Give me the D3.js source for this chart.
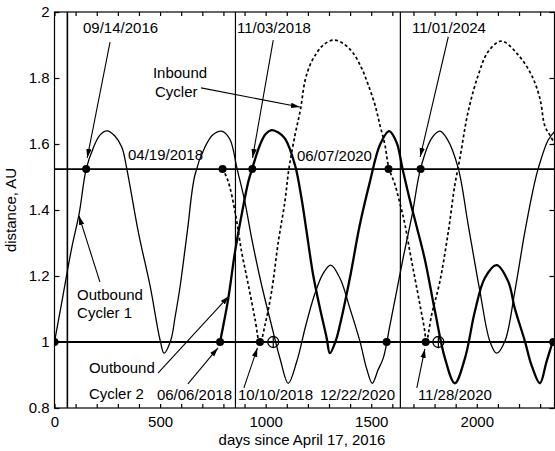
<!DOCTYPE html>
<html><head><meta charset="utf-8">
<script src="https://cdn.jsdelivr.net/npm/d3@7/dist/d3.min.js"></script>
<style>
body{margin:0;background:#fff}
svg{display:block}
text{font-family:"Liberation Sans",Arial,Helvetica,sans-serif;fill:#000}
</style>
</head><body>
<svg id="chart" width="555" height="451"></svg>
<script>
// ---------- data (days since April 17, 2016 ; distance in AU) ----------
const cycler1Days = [0,40,80,117,150,185,215,249,285,319,342,398,453,500,519,551,571,595,630,665,712,750,791,830,865,900,935,980,1028,1068,1107,1147,1190,1230,1270,1308,1352,1399,1447,1478,1505,1532,1557,1589,1620,1651,1695,1734,1786,1825,1860,1912,1959,2015,2062,2094,2133,2180,2228,2275,2291,2338,2370];
const cycler1AU   = [1.00,1.14,1.28,1.39,1.524,1.59,1.627,1.64,1.625,1.59,1.526,1.33,1.169,1.006,0.966,1.006,1.075,1.169,1.34,1.506,1.59,1.628,1.639,1.615,1.524,1.43,1.31,1.175,1.05,0.95,0.875,0.94,1.05,1.14,1.205,1.233,1.193,1.102,1.001,0.92,0.875,0.915,0.951,1.052,1.153,1.254,1.39,1.526,1.617,1.639,1.615,1.527,1.356,1.153,1.002,0.966,1.002,1.153,1.335,1.486,1.526,1.612,1.639];

const cycler2Days = [784,823,855,886,918,937,973,1000,1028,1060,1091,1139,1170,1194,1225,1257,1289,1304,1330,1352,1399,1446,1494,1541,1585,1620,1648,1683,1715,1754,1802,1849,1896,1944,1991,2038,2094,2149,2180,2228,2259,2299,2330,2362];
const cycler2AU   = [1.00,1.132,1.274,1.385,1.486,1.527,1.597,1.63,1.642,1.635,1.617,1.536,1.435,1.334,1.203,1.103,1.012,0.966,1.0,1.052,1.194,1.355,1.486,1.597,1.639,1.605,1.526,1.43,1.35,1.25,1.093,0.951,0.875,0.951,1.093,1.194,1.233,1.183,1.102,1.002,0.93,0.875,0.94,1.006];

const inboundDays = [796,823,855,886,918,949,973,997,1028,1060,1091,1110,1139,1165,1186,1210,1241,1273,1320,1367,1415,1455,1486,1518,1541,1565,1584,1611,1638,1660,1683,1707,1731,1754,1760,1786,1825,1865,1896,1920,1959,2007,2054,2117,2196,2259,2299,2322,2346,2370];
const inboundAU   = [1.526,1.486,1.395,1.274,1.173,1.072,0.995,1.052,1.152,1.304,1.425,1.524,1.627,1.705,1.79,1.839,1.875,1.90,1.915,1.905,1.875,1.829,1.779,1.718,1.658,1.597,1.526,1.48,1.415,1.355,1.274,1.193,1.112,1.031,0.995,1.082,1.183,1.334,1.476,1.557,1.698,1.809,1.88,1.912,1.87,1.809,1.738,1.655,1.627,1.60];

const earthAU = 1.0;
const marsAU = 1.524;
const verticalLineDays = [61, 857, 1638];

const earthDotDays = [0, 784, 973, 1573, 1758, 2362];
const marsDotDays  = [150, 796, 937, 1582, 1734];
const crossDotDays = [1036, 1818];

const xTickValues = d3.range(0, 2400, 100);
const xTickLabels = [0, 500, 1000, 1500, 2000];
const yTickValues = [0.8, 1.0, 1.2, 1.4, 1.6, 1.8, 2.0];

const xTitle = "days since April 17, 2016";
const yTitle = "distance, AU";

// annotation texts and anchors (day, AU)
const labelTexts = ["09/14/2016","11/03/2018","11/01/2024","Inbound","Cycler","04/19/2018","06/07/2020","Outbound","Cycler 1","Outbound","Cycler 2","06/06/2018","10/10/2018","12/22/2020","11/28/2020"];
const labelDays  = [135,864,1693,466,476,348,1148,107,107,163,163,485,869,1257,1721];
const labelAU    = [1.936,1.936,1.936,1.80,1.742,1.552,1.548,1.127,1.073,0.906,0.827,0.824,0.824,0.824,0.824];

// annotation arrows: from (day,AU) to (day,AU)
const arrowFromDays = [263,1036,1865,694,215,490,632,897,1716];
const arrowFromAU   = [1.909,1.915,1.925,1.770,1.182,0.906,0.873,0.861,0.861];
const arrowToDays   = [155,938,1732,1162,116,826,774,961,1754];
const arrowToAU     = [1.558,1.558,1.561,1.712,1.382,1.139,0.982,0.982,0.979];

// ---------- chart ----------
const svg = d3.select("#chart");
const x = d3.scaleLinear().domain([0, 2368]).range([54.5, 554.5]);
const y = d3.scaleLinear().domain([0.8, 2.0]).range([408, 12]);

svg.append("rect").attr("width",555).attr("height",451).attr("fill","#fff");

const defs = svg.append("defs");
defs.append("clipPath").attr("id","plotclip").append("rect")
  .attr("x",54.5).attr("y",12).attr("width",500).attr("height",396);
defs.append("marker").attr("id","ah").attr("viewBox","0 0 10 6")
  .attr("refX",10).attr("refY",3).attr("markerWidth",9).attr("markerHeight",6)
  .attr("markerUnits","userSpaceOnUse").attr("orient","auto")
  .append("path").attr("d","M0,0L10,3L0,6Z").attr("fill","#000");

const plot = svg.append("g").attr("clip-path","url(#plotclip)");

// reference lines
plot.append("line").attr("x1",x(0)).attr("x2",x(2368)).attr("y1",y(earthAU)).attr("y2",y(earthAU))
  .attr("stroke","#000").attr("stroke-width",2);
plot.append("line").attr("x1",x(0)).attr("x2",x(2368)).attr("y1",y(marsAU)).attr("y2",y(marsAU))
  .attr("stroke","#000").attr("stroke-width",1.6);
plot.selectAll(".vl").data(verticalLineDays).join("line")
  .attr("x1",d=>x(d)).attr("x2",d=>x(d)).attr("y1",y(2.0)).attr("y2",y(0.8))
  .attr("stroke","#000").attr("stroke-width",(d,i)=>i===0?1.6:1.2);

const line = d3.line().x(d=>x(d[0])).y(d=>y(d[1])).curve(d3.curveCatmullRom.alpha(0.5));
const zip = (a,b)=>a.map((v,i)=>[v,b[i]]);

plot.append("path").datum(zip(inboundDays,inboundAU)).attr("d",line)
  .attr("fill","none").attr("stroke","#000").attr("stroke-width",1.7).attr("stroke-dasharray","3,2.5");
plot.append("path").datum(zip(cycler1Days,cycler1AU)).attr("d",line)
  .attr("fill","none").attr("stroke","#000").attr("stroke-width",1.3);
plot.append("path").datum(zip(cycler2Days,cycler2AU)).attr("d",line)
  .attr("fill","none").attr("stroke","#000").attr("stroke-width",2.3);

// dots
plot.selectAll(".ed").data(earthDotDays).join("circle")
  .attr("cx",d=>x(d)).attr("cy",y(earthAU)).attr("r",4).attr("fill","#000");
plot.selectAll(".md").data(marsDotDays).join("circle")
  .attr("cx",d=>x(d)).attr("cy",y(marsAU)).attr("r",4).attr("fill","#000");
const cg = plot.selectAll(".cd").data(crossDotDays).join("g");
cg.append("circle").attr("cx",d=>x(d)).attr("cy",y(earthAU)).attr("r",5.5)
  .attr("fill","none").attr("stroke","#000").attr("stroke-width",1.3);
cg.append("line").attr("x1",d=>x(d)).attr("x2",d=>x(d)).attr("y1",y(earthAU)-5.5).attr("y2",y(earthAU)+5.5)
  .attr("stroke","#000").attr("stroke-width",1.2);

// arrows
svg.selectAll(".arr").data(arrowFromDays).join("line")
  .attr("x1",(d,i)=>x(arrowFromDays[i])).attr("y1",(d,i)=>y(arrowFromAU[i]))
  .attr("x2",(d,i)=>x(arrowToDays[i])).attr("y2",(d,i)=>y(arrowToAU[i]))
  .attr("stroke","#000").attr("stroke-width",1.1).attr("marker-end","url(#ah)");

// labels
svg.selectAll(".lbl").data(labelTexts).join("text")
  .attr("x",(d,i)=>x(labelDays[i])).attr("y",(d,i)=>y(labelAU[i]))
  .attr("font-size",15).text(d=>d);

// axes
const xb = svg.append("g").attr("transform",`translate(0,${y(0.8)})`)
  .call(d3.axisBottom(x).tickValues(xTickValues).tickSize(-4).tickPadding(8)
    .tickFormat(d=>xTickLabels.includes(d)?String(d):""));
const xt = svg.append("g").attr("transform",`translate(0,${y(2.0)})`)
  .call(d3.axisTop(x).tickValues(xTickValues).tickSize(-4).tickFormat(""));
const yl = svg.append("g").attr("transform",`translate(${x(0)},0)`)
  .call(d3.axisLeft(y).tickValues(yTickValues).tickSize(-5).tickPadding(5)
    .tickFormat(d=>String(+d.toFixed(1))));
const yr = svg.append("g").attr("transform",`translate(${x(2368)},0)`)
  .call(d3.axisRight(y).tickValues(yTickValues).tickSize(-5).tickFormat(""));
[xb,xt,yl,yr].forEach(g=>{
  g.select(".domain").remove();
  g.selectAll(".tick line").attr("stroke","#000").attr("stroke-width",1.2);
  g.selectAll("text").attr("font-size",15).attr("font-family",'"Liberation Sans",Arial,sans-serif').attr("fill","#000");
});

// frame
svg.append("rect").attr("x",x(0)).attr("y",y(2.0)).attr("width",x(2368)-x(0)).attr("height",y(0.8)-y(2.0))
  .attr("fill","none").attr("stroke","#000").attr("stroke-width",1.2);

// titles
svg.append("text").attr("x",302).attr("y",445).attr("text-anchor","middle").attr("font-size",15).text(xTitle);
svg.append("text").attr("transform","translate(16,210) rotate(-90)").attr("text-anchor","middle")
  .attr("font-size",15).text(yTitle);
</script>
</body></html>
